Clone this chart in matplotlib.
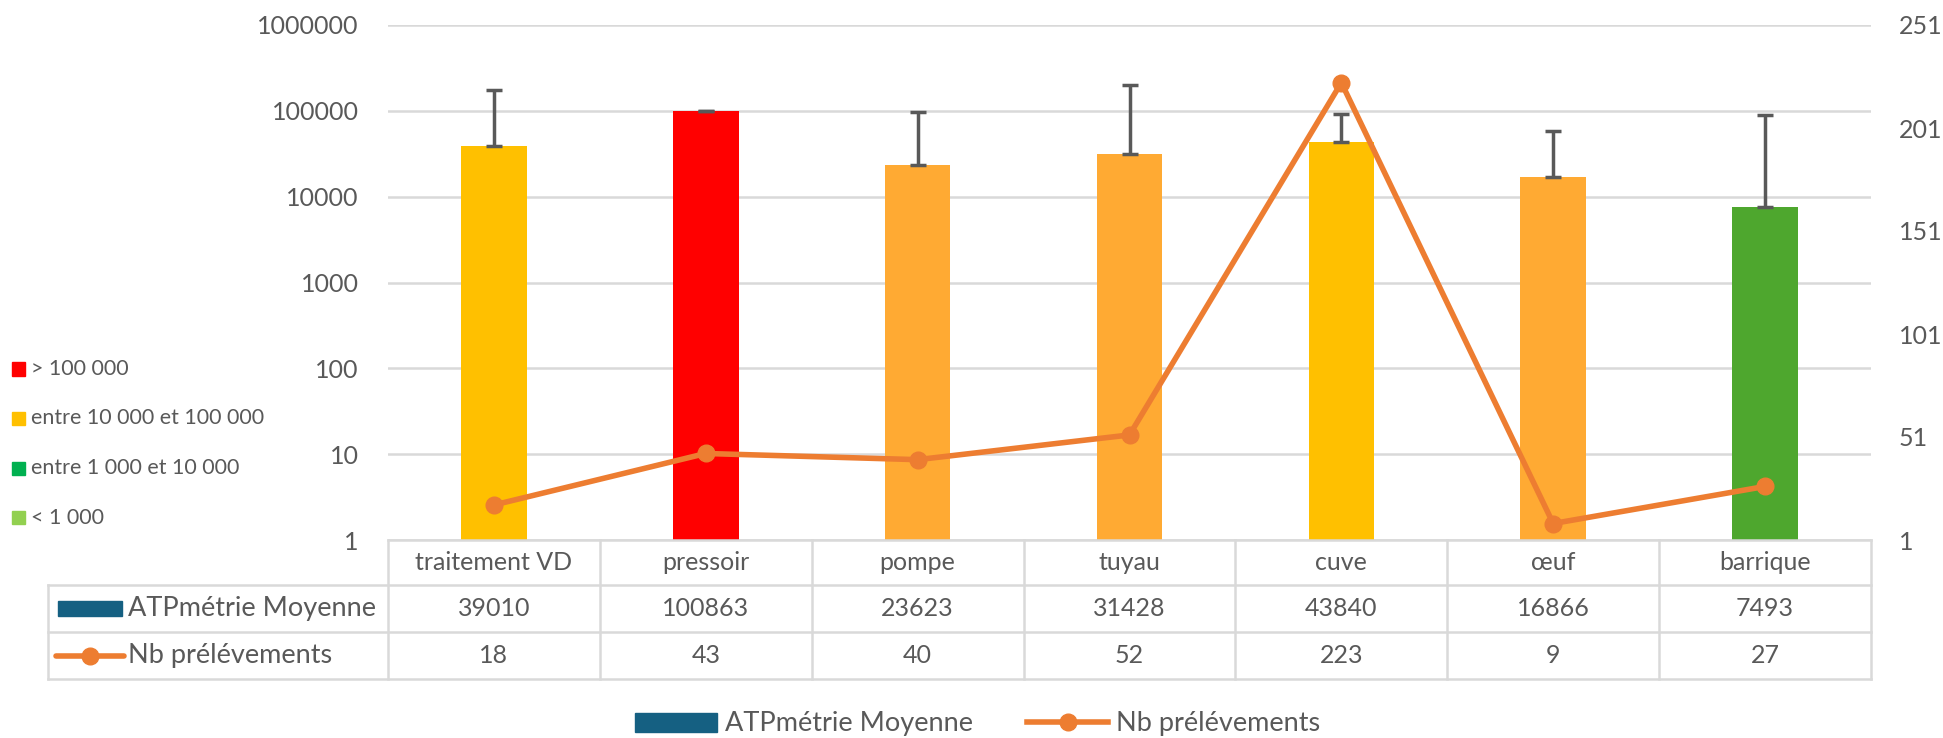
import matplotlib.pyplot as plt
from matplotlib.transforms import blended_transform_factory
from matplotlib.lines import Line2D
from matplotlib.patches import Patch, Rectangle

plt.rcParams['font.family'] = ['Lato', 'DejaVu Sans']

categories = ['traitement VD', 'pressoir', 'pompe', 'tuyau', 'cuve', 'œuf', 'barrique']
atp_mean = [39010, 100863, 23623, 31428, 43840, 16866, 7493]
atp_err_up = [136000, 0, 73000, 171000, 48000, 41000, 81000]
nb_samples = [18, 43, 40, 52, 223, 9, 27]
bar_colors = ['#FFC000', '#FF0000', '#FFAA33', '#FFAA33', '#FFC000', '#FFAA33', '#4EA72E']

class_labels = ['> 100 000', 'entre 10 000 et 100 000', 'entre 1 000 et 10 000', '< 1 000']
class_colors = ['#FF0000', '#FFC000', '#00B050', '#92D050']

left_ticks = [1, 10, 100, 1000, 10000, 100000, 1000000]
right_ticks = [1, 51, 101, 151, 201, 251]

TXT = '#595959'
GRID = '#D9D9D9'
LINE = '#ED7D31'
BLUE = '#156082'
FS = 18

W, H = 1943, 738
fig = plt.figure(figsize=(W / 100, H / 100), dpi=100)

def fy(px):
    return 1 - px / H

def fx(px):
    return px / W

ax = fig.add_axes([fx(388), fy(540), fx(1871) - fx(388), fy(25) - fy(540)])
x = list(range(len(categories)))

ax.bar(x, atp_mean, width=0.31, color=bar_colors, zorder=2)
ax.errorbar(x, atp_mean, yerr=[[0] * len(x), atp_err_up], fmt='none',
            ecolor=TXT, elinewidth=2.5, capsize=6, capthick=2.5, zorder=3)
ax.set_yscale('log')
ax.set_ylim(1, 1e6)
ax.set_xlim(-0.5, len(x) - 0.5)
ax.set_yticks(left_ticks)
ax.set_yticklabels([str(v) for v in left_ticks])
ax.minorticks_off()
ax.set_xticks([])
ax.yaxis.grid(True, color=GRID, lw=1.8, zorder=0)
ax.set_axisbelow(True)
for s in ax.spines.values():
    s.set_visible(False)
ax.tick_params(axis='y', length=0, pad=21, labelsize=FS, labelcolor=TXT)

ax2 = ax.twinx()
ax2.plot(x, nb_samples, color=LINE, lw=4, marker='o', ms=12, zorder=4)
ax2.set_ylim(1, 251)
ax2.set_yticks(right_ticks)
ax2.set_xlim(-0.5, len(x) - 0.5)
for s in ax2.spines.values():
    s.set_visible(False)
ax2.tick_params(axis='y', length=0, pad=20, labelsize=FS, labelcolor=TXT)

# data table under the plot
tr = blended_transform_factory(ax.transData, fig.transFigure)
rows_y = [fy(540), fy(585), fy(632), fy(679)]
lkw = dict(color=GRID, lw=1.8, clip_on=False)
for i in range(len(x) + 1):
    ax.plot([i - 0.5, i - 0.5], [rows_y[0], rows_y[3]], transform=tr, **lkw)
ax.plot([-0.5, len(x) - 0.5], [rows_y[0], rows_y[0]], transform=tr, **lkw)
for ry in rows_y[1:]:
    fig.add_artist(Line2D([fx(48), fx(1871)], [ry, ry], color=GRID, lw=1.8))
fig.add_artist(Line2D([fx(48), fx(48)], [rows_y[1], rows_y[3]], color=GRID, lw=1.8))

row_mid = [(rows_y[i] + rows_y[i + 1]) / 2 for i in range(3)]
for i in x:
    tkw = dict(transform=tr, ha='center', va='center', fontsize=FS, color=TXT, clip_on=False)
    ax.text(i, row_mid[0], categories[i], **tkw)
    ax.text(i, row_mid[1], str(atp_mean[i]), **tkw)
    ax.text(i, row_mid[2], str(nb_samples[i]), **tkw)

# series keys in the row headers
fig.add_artist(Rectangle((fx(58), row_mid[1] - 7.5 / H), fx(64), 15 / H, color=BLUE))
fig.text(fx(128), row_mid[1], 'ATPmétrie Moyenne', ha='left', va='center', fontsize=19.5, color=TXT)
fig.add_artist(Line2D([fx(56), fx(124)], [row_mid[2], row_mid[2]], color=LINE, lw=4,
                      solid_capstyle='round'))
fig.add_artist(Line2D([fx(90)], [row_mid[2]], color=LINE, marker='o', ms=12))
fig.text(fx(128), row_mid[2], 'Nb prélévements', ha='left', va='center', fontsize=19.5, color=TXT)

# colour class key on the left
for i, (lab, col) in enumerate(zip(class_labels, class_colors)):
    yy = fy(369 + i * 49.5)
    fig.add_artist(Rectangle((fx(12), yy - 6.5 / H), fx(13), 13 / H, color=col))
    fig.text(fx(31), yy, lab, ha='left', va='center', fontsize=15.5, color=TXT)

handles = [Patch(color=BLUE), Line2D([], [], color=LINE, lw=4, marker='o', ms=12)]
fig.legend(handles, ['ATPmétrie Moyenne', 'Nb prélévements'], loc='center',
           bbox_to_anchor=(fx(978), fy(724)), ncol=2, frameon=False, fontsize=19.5,
           labelcolor=TXT, handlelength=3.0, columnspacing=2.0, handletextpad=0.3)

fig.savefig('out.png', dpi=100)
